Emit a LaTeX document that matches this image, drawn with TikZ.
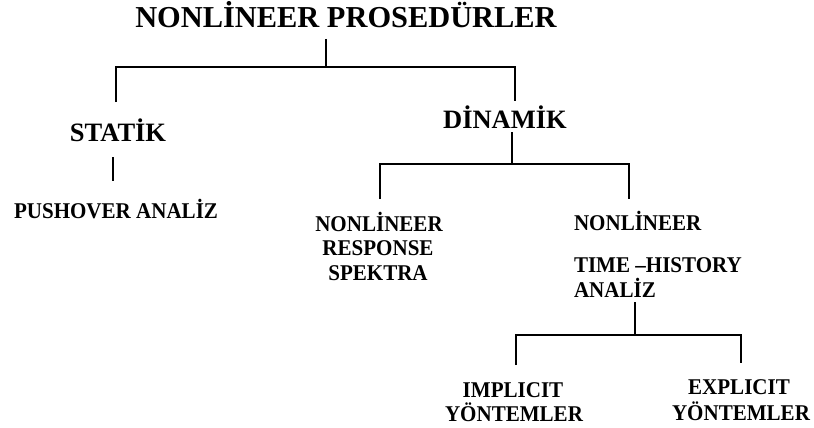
\documentclass[tikz,border=0pt]{standalone}
\usepackage{fontspec}
\setmainfont{Liberation Serif}
\newcommand{\nar}[1]{\scalebox{0.935}[1]{#1}}
\begin{document}
\begin{tikzpicture}[x=1pt,y=-1pt,
  every node/.style={inner sep=0pt, outer sep=0pt},
  ttl/.style={anchor=base, font=\bfseries\fontsize{30.4}{32}\selectfont},
  lvl/.style={anchor=base, font=\bfseries\fontsize{26.5}{28}\selectfont},
  lbl/.style={anchor=base, font=\bfseries\fontsize{22.5}{24}\selectfont},
  lbll/.style={anchor=base west, font=\bfseries\fontsize{22.5}{24}\selectfont},
  conn/.style={line width=1.6pt}]
\useasboundingbox (0,0) rectangle (814,428);
\fill[white] (0,0) rectangle (814,428);

% texts
\node[ttl] (title) at (346,28) {NONLİNEER PROSEDÜRLER};
\node[lvl] (statik) at (118,141) {STATİK};
\node[lvl] (dinamik) at (505,128) {DİNAMİK};
\node[lbl] (push) at (116,218) {\nar{PUSHOVER ANALİZ}};
\node[lbl] (rs1) at (379,231) {\nar{NONLİNEER}};
\node[lbl] (rs2) at (378,255) {\nar{RESPONSE}};
\node[lbl] (rs3) at (378,280) {\nar{SPEKTRA}};
\node[lbll] (th1) at (574,230) {\nar{NONLİNEER}};
\node[lbll] (th2) at (574,272) {\nar{TIME –HISTORY}};
\node[lbll] (th3) at (574,297) {\nar{ANALİZ}};
\node[lbl] (im1) at (513,397) {\nar{IMPLICIT}};
\node[lbl] (im2) at (514,421) {\nar{YÖNTEMLER}};
\node[lbl] (ex1) at (739,394) {\nar{EXPLICIT}};
\node[lbl] (ex2) at (741,420) {\nar{YÖNTEMLER}};

% connector points
\coordinate (t0) at (326,39);
\coordinate (t1) at (326,67);
\coordinate (tl) at (116,67);
\coordinate (tr) at (515,67);
\coordinate (sA) at (116,102);
\coordinate (dA) at (515,101);
\coordinate (s0) at (113,157);
\coordinate (s1) at (113,181);
\coordinate (d0) at (512,132);
\coordinate (d1) at (512,164);
\coordinate (dl) at (380,164);
\coordinate (dr) at (629,164);
\coordinate (rA) at (380,199);
\coordinate (hA) at (629,199);
\coordinate (h0) at (635,302);
\coordinate (h1) at (635,335);
\coordinate (hl) at (516,335);
\coordinate (hr) at (741,335);
\coordinate (iA) at (516,365);
\coordinate (eA) at (741,363);

\draw[conn] (t0) -- (t1);
\draw[conn] (sA) -- (tl) -- (tr) -- (dA);
\draw[conn] (s0) -- (s1);
\draw[conn] (d0) -- (d1);
\draw[conn] (rA) -- (dl) -- (dr) -- (hA);
\draw[conn] (h0) -- (h1);
\draw[conn] (iA) -- (hl) -- (hr) -- (eA);
\end{tikzpicture}
\end{document}
